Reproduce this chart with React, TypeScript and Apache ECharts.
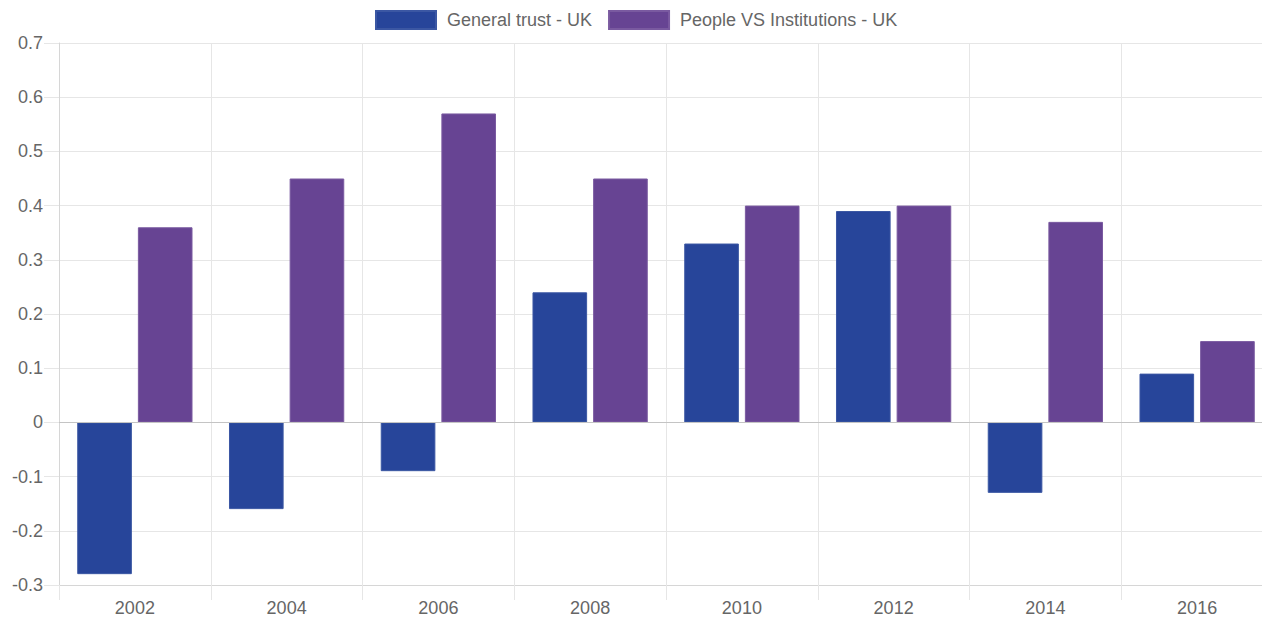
import React, { useEffect, useRef } from "react";
import * as echarts from "echarts";

const years = ["2002", "2004", "2006", "2008", "2010", "2012", "2014", "2016"];
const generalTrust = [-0.28, -0.16, -0.09, 0.24, 0.33, 0.39, -0.13, 0.09];
const peopleVsInstitutions = [0.36, 0.45, 0.57, 0.45, 0.4, 0.4, 0.37, 0.15];
const seriesNames = ["General trust - UK", "People VS Institutions - UK"];

const FONT = "'Liberation Sans', Arial, Helvetica, sans-serif";
const GRID = "#e6e6e6";

export default function App() {
  const ref = useRef<HTMLDivElement>(null);
  useEffect(() => {
    if (!ref.current) return;
    const chart = echarts.init(ref.current, null, { renderer: "svg" });
    chart.setOption({
      animation: false,
      backgroundColor: "#ffffff",
      legend: {
        top: 5,
        left: 370,
        itemWidth: 60,
        itemHeight: 18,
        itemGap: 16,
        icon: "rect",
        data: seriesNames,
        textStyle: { fontFamily: FONT, fontSize: 18, color: "#666", padding: [0, 0, 0, 6] },
      },
      grid: { left: 59, right: 7, top: 43, bottom: 36, containLabel: false },
      xAxis: {
        type: "category",
        data: years,
        axisLine: { show: true, onZero: false, lineStyle: { color: "#d6d6d6", width: 1 } },
        axisTick: { show: true, length: 15, lineStyle: { color: GRID } },
        splitLine: { show: true, lineStyle: { color: GRID } },
        axisLabel: { fontFamily: FONT, fontSize: 18, color: "#666", margin: 14 },
      },
      yAxis: {
        type: "value",
        min: -0.3,
        max: 0.7,
        interval: 0.1,
        axisLine: { show: true, lineStyle: { color: "#d6d6d6", width: 1 } },
        axisTick: { show: true, length: 15, lineStyle: { color: GRID } },
        splitLine: { show: true, lineStyle: { color: GRID } },
        axisLabel: {
          fontFamily: FONT,
          fontSize: 18,
          color: "#666",
          margin: 16,
          formatter: (v: number) => String(Math.round(v * 10) / 10),
        },
      },
      series: [
        {
          name: seriesNames[0],
          type: "bar",
          data: generalTrust,
          barWidth: "36%",
          barGap: "11%",
          itemStyle: { color: "#27459a", borderColor: "#3b57a3", borderWidth: 1 },
          markLine: {
            silent: true,
            symbol: "none",
            label: { show: false },
            lineStyle: { color: "#c4c4c4", type: "solid", width: 1 },
            data: [{ yAxis: 0 }],
          },
        },
        {
          name: seriesNames[1],
          type: "bar",
          data: peopleVsInstitutions,
          barWidth: "36%",
          barGap: "11%",
          itemStyle: { color: "#674493", borderColor: "#7a5aa0", borderWidth: 1 },
        },
      ],
    });
    return () => chart.dispose();
  }, []);
  return (
    <div
      ref={ref}
      style={{ position: "fixed", left: 0, top: 0, width: 1280, height: 621 }}
    />
  );
}
